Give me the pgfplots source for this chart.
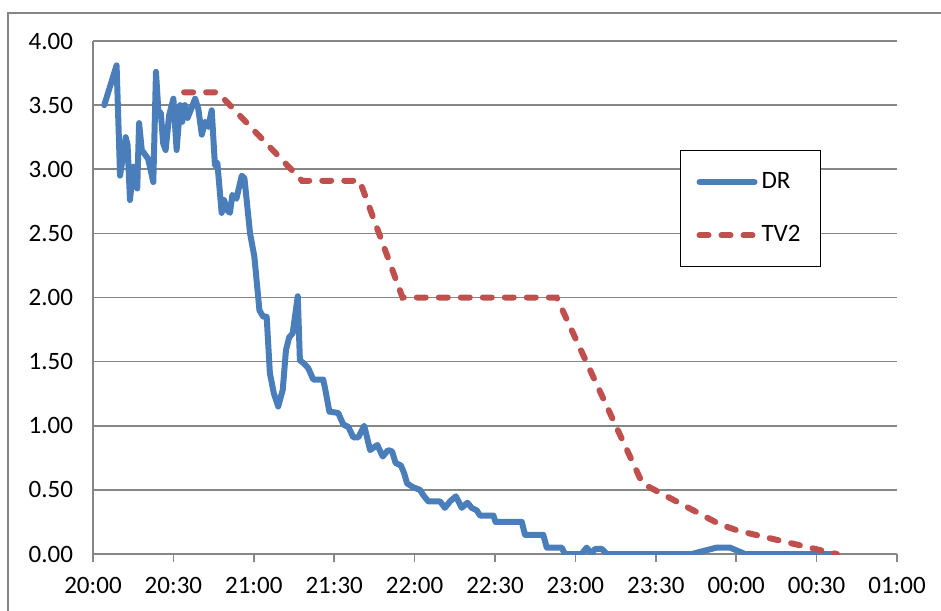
\documentclass[border=0pt]{standalone}
\usepackage{fontspec}
\setmainfont{Carlito}
\usepackage{pgfplots}
\pgfplotsset{compat=1.18}
\definecolor{drblue}{RGB}{74,126,187}
\definecolor{tvred}{RGB}{192,80,77}
\definecolor{gridgray}{RGB}{134,134,134}
\begin{document}
\begin{tikzpicture}
\useasboundingbox (0,0) rectangle (470.5pt,305pt);
\draw[gridgray,line width=0.8pt] (4pt,-20pt) rectangle (490pt,298.5pt);
\begin{axis}[
  at={(46.5pt,28pt)}, anchor=south west,
  scale only axis, width=402pt, height=256.5pt,
  xmin=0, xmax=300, ymin=0, ymax=4,
  axis x line*=bottom, axis y line*=left,
  axis line style={gridgray,line width=0.8pt},
  xtick={0,30,...,300},
  xticklabels={20:00,20:30,21:00,21:30,22:00,22:30,23:00,23:30,00:00,00:30,01:00},
  ytick={0,0.5,...,4},
  ymajorgrids, grid style={gridgray,line width=0.8pt},
  tick align=outside, major tick length=4pt,
  xtick style={gridgray,line width=0.8pt},
  ytick style={draw=none},
  yticklabel style={/pgf/number format/fixed,/pgf/number format/fixed zerofill,/pgf/number format/precision=2,/pgf/number format/assume math mode=true, xshift=-2.5pt},
  ticklabel style={font=\fontsize{12.5}{14}\selectfont},
  xticklabel style={yshift=-4pt},
  legend style={at={(0.730,0.7875)}, anchor=north west, draw=black, line width=0.6pt,
    inner xsep=8pt, inner ysep=9pt, row sep=13pt, font=\fontsize{12.5}{14}\selectfont,
    /tikz/every even column/.append style={column sep=0pt}},
  legend cell align=left,
  legend image code/.code={\draw[#1] (0pt,0pt) -- (27.5pt,0pt);},
]
\addplot[drblue, line width=3pt, line join=round, line cap=round] coordinates {
(4.2,3.50) (8.8,3.81) (10.1,2.95) (12.2,3.25) (12.9,3.19) (13.8,2.76) (15.0,3.02)
(16.5,2.85) (17.2,3.36) (18.2,3.15) (20.6,3.08) (22.5,2.90) (23.5,3.76) (24.4,3.45)
(25.3,3.44) (26.2,3.20) (27.1,3.15) (28.4,3.42) (30.0,3.55) (31.2,3.15) (32.5,3.50)
(33.3,3.37) (34.3,3.50) (35.3,3.40) (36.8,3.48) (38.1,3.55) (39.3,3.47) (40.6,3.27)
(41.8,3.37) (43.0,3.33) (44.3,3.46) (45.5,3.03) (46.4,3.05) (48.0,2.66) (48.9,2.76)
(50.1,2.68) (51.1,2.66) (52.0,2.80) (53.5,2.77) (55.5,2.95) (56.5,2.93) (58.6,2.50)
(60.2,2.32) (62.1,1.90) (63.5,1.85) (64.8,1.85) (66.0,1.41) (67.5,1.25) (69.1,1.15)
(70.8,1.28) (72.0,1.59) (73.2,1.69) (74.5,1.72) (76.4,2.01) (77.2,1.51) (78.5,1.49)
(80.3,1.45) (82.2,1.36) (85.9,1.36) (86.7,1.28) (88.2,1.11) (91.5,1.10) (93.4,1.01)
(95.3,0.99) (97.1,0.91) (99.0,0.91) (101.2,1.00) (103.4,0.81) (106.1,0.85) (108.1,0.76)
(110.1,0.81) (111.6,0.80) (112.9,0.71) (114.9,0.69) (116.1,0.63) (117.2,0.55) (119.5,0.52)
(122.0,0.50) (123.2,0.46) (125.1,0.41) (129.5,0.41) (131.3,0.36) (133.2,0.41) (135.4,0.45)
(137.6,0.36) (139.7,0.40) (141.3,0.36) (143.2,0.34) (144.4,0.30) (149.4,0.30) (150.2,0.25)
(160.0,0.25) (161.2,0.15) (168.0,0.15) (169.3,0.05) (174.9,0.05) (176.1,0.00) (182.3,0.00)
(184.2,0.05) (186.1,0.00) (187.3,0.04) (189.8,0.04) (191.7,0.00) (223.4,0.00) (232.7,0.05)
(237.7,0.05) (243.3,0.00) (277.5,0.00)
};
\addlegendentry{DR}
\addplot[tvred, line width=3pt, line cap=round, dash pattern=on 4.5pt off 6.5pt] coordinates {
(34,3.60) (46.5,3.60) (78,2.91) (99.5,2.91) (115.5,2.00) (173,2.00) (205,0.55)
(234,0.23) (241,0.18) (277.5,0.00)
};
\addlegendentry{TV2}
\end{axis}
\end{tikzpicture}
\end{document}
